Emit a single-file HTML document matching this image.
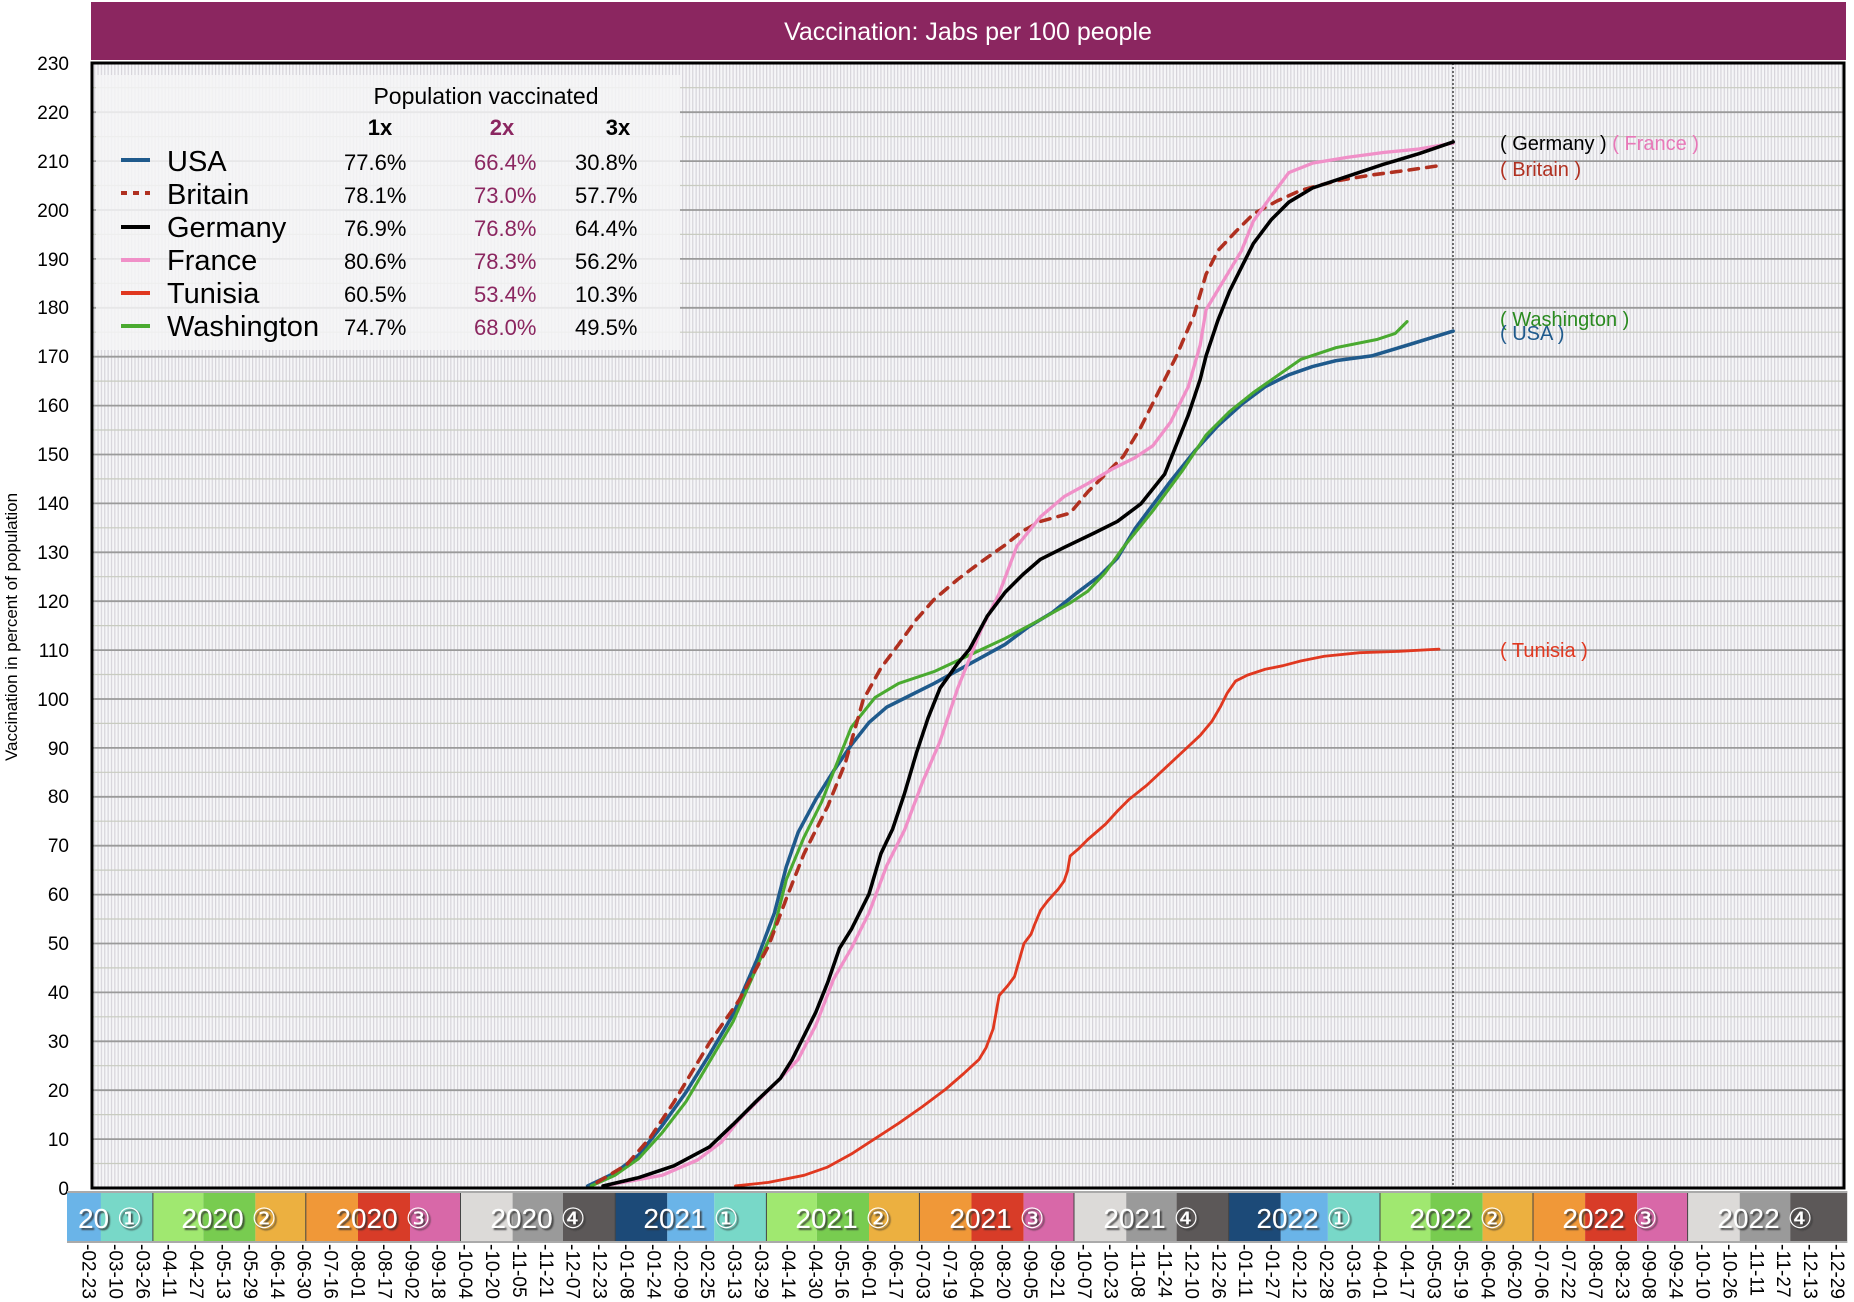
<!DOCTYPE html>
<html><head><meta charset="utf-8"><style>
html,body{margin:0;padding:0;background:#fff;}
svg{display:block;font-family:"Liberation Sans",Arial,sans-serif;}
</style></head><body>
<svg width="1854" height="1302" viewBox="0 0 1854 1302" xmlns="http://www.w3.org/2000/svg">
<defs>
<pattern id="vs" width="3.36" height="10" patternUnits="userSpaceOnUse">
<rect width="3.36" height="10" fill="#f6f6f8"/>
<rect width="1.2" height="10" fill="#d6d4da"/>
</pattern>
<filter id="sh" x="-10%" y="-10%" width="130%" height="140%"><feDropShadow dx="2" dy="2" stdDeviation="0.8" flood-color="#333" flood-opacity="0.8"/></filter>
</defs>
<!-- title -->
<rect x="91" y="2" width="1755" height="58" fill="#8b2660"/>
<text x="968" y="40" font-size="25" fill="#fff" text-anchor="middle">Vaccination: Jabs per 100 people</text>
<!-- plot bg -->
<rect x="92" y="63" width="1752" height="1125" fill="url(#vs)"/>
<!-- grid -->
<g stroke="#c8cbc0" stroke-width="1.2">
<line x1="92" x2="1844" y1="87.7" y2="87.7"/><line x1="92" x2="1844" y1="136.6" y2="136.6"/><line x1="92" x2="1844" y1="185.5" y2="185.5"/><line x1="92" x2="1844" y1="234.4" y2="234.4"/><line x1="92" x2="1844" y1="283.3" y2="283.3"/><line x1="92" x2="1844" y1="332.2" y2="332.2"/><line x1="92" x2="1844" y1="381.1" y2="381.1"/><line x1="92" x2="1844" y1="430" y2="430"/><line x1="92" x2="1844" y1="478.9" y2="478.9"/><line x1="92" x2="1844" y1="527.8" y2="527.8"/><line x1="92" x2="1844" y1="576.7" y2="576.7"/><line x1="92" x2="1844" y1="625.6" y2="625.6"/><line x1="92" x2="1844" y1="674.5" y2="674.5"/><line x1="92" x2="1844" y1="723.4" y2="723.4"/><line x1="92" x2="1844" y1="772.3" y2="772.3"/><line x1="92" x2="1844" y1="821.2" y2="821.2"/><line x1="92" x2="1844" y1="870.1" y2="870.1"/><line x1="92" x2="1844" y1="919" y2="919"/><line x1="92" x2="1844" y1="967.9" y2="967.9"/><line x1="92" x2="1844" y1="1016.8" y2="1016.8"/><line x1="92" x2="1844" y1="1065.7" y2="1065.7"/><line x1="92" x2="1844" y1="1114.6" y2="1114.6"/><line x1="92" x2="1844" y1="1163.5" y2="1163.5"/>
</g>
<g stroke="#9a9a9a" stroke-width="1.8">
<line x1="92" x2="1844" y1="112.2" y2="112.2"/><line x1="92" x2="1844" y1="161.1" y2="161.1"/><line x1="92" x2="1844" y1="210" y2="210"/><line x1="92" x2="1844" y1="258.9" y2="258.9"/><line x1="92" x2="1844" y1="307.8" y2="307.8"/><line x1="92" x2="1844" y1="356.7" y2="356.7"/><line x1="92" x2="1844" y1="405.6" y2="405.6"/><line x1="92" x2="1844" y1="454.5" y2="454.5"/><line x1="92" x2="1844" y1="503.4" y2="503.4"/><line x1="92" x2="1844" y1="552.3" y2="552.3"/><line x1="92" x2="1844" y1="601.2" y2="601.2"/><line x1="92" x2="1844" y1="650.1" y2="650.1"/><line x1="92" x2="1844" y1="699" y2="699"/><line x1="92" x2="1844" y1="747.9" y2="747.9"/><line x1="92" x2="1844" y1="796.8" y2="796.8"/><line x1="92" x2="1844" y1="845.7" y2="845.7"/><line x1="92" x2="1844" y1="894.6" y2="894.6"/><line x1="92" x2="1844" y1="943.5" y2="943.5"/><line x1="92" x2="1844" y1="992.4" y2="992.4"/><line x1="92" x2="1844" y1="1041.3" y2="1041.3"/><line x1="92" x2="1844" y1="1090.2" y2="1090.2"/><line x1="92" x2="1844" y1="1139.1" y2="1139.1"/>
</g>
<line x1="1453" x2="1453" y1="63" y2="1188" stroke="#444" stroke-width="1.5" stroke-dasharray="2,2"/>
<!-- y labels -->
<g font-size="19" fill="#000" text-anchor="end">
<text x="69" y="70">230</text><text x="69" y="119">220</text><text x="69" y="168">210</text><text x="69" y="217">200</text><text x="69" y="266">190</text><text x="69" y="314">180</text><text x="69" y="363">170</text><text x="69" y="412">160</text><text x="69" y="461">150</text><text x="69" y="510">140</text><text x="69" y="559">130</text><text x="69" y="608">120</text><text x="69" y="657">110</text><text x="69" y="706">100</text><text x="69" y="755">90</text><text x="69" y="803">80</text><text x="69" y="852">70</text><text x="69" y="901">60</text><text x="69" y="950">50</text><text x="69" y="999">40</text><text x="69" y="1048">30</text><text x="69" y="1097">20</text><text x="69" y="1146">10</text><text x="69" y="1195">0</text>
</g>
<text transform="translate(17,627) rotate(-90)" font-size="17" text-anchor="middle">Vaccination in percent of population</text>
<!-- legend -->
<rect x="96" y="75" width="584" height="275" fill="#f4f4f6" opacity="0.85"/>
<text x="486" y="104" font-size="23" text-anchor="middle">Population vaccinated</text>
<g font-size="22" font-weight="bold" text-anchor="middle">
<text x="380" y="135">1x</text><text x="502" y="135" fill="#8b2660">2x</text><text x="618" y="135">3x</text>
</g>
<g stroke-width="4">
<line x1="121" x2="150" y1="160" y2="160" stroke="#1f5a8c"/>
<line x1="121" x2="150" y1="193" y2="193" stroke="#b03020" stroke-dasharray="6,6"/>
<line x1="121" x2="150" y1="227" y2="227" stroke="#000"/>
<line x1="121" x2="150" y1="260" y2="260" stroke="#f090c8"/>
<line x1="121" x2="150" y1="293" y2="293" stroke="#e03820"/>
<line x1="121" x2="150" y1="326" y2="326" stroke="#4aaa30"/>
</g>
<g font-size="29">
<text x="167" y="171">USA</text><text x="167" y="204">Britain</text><text x="167" y="237">Germany</text><text x="167" y="270">France</text><text x="167" y="303">Tunisia</text><text x="167" y="336">Washington</text>
</g>
<g font-size="22">
<text x="344" y="170">77.6%</text><text x="344" y="203">78.1%</text><text x="344" y="236">76.9%</text><text x="344" y="269">80.6%</text><text x="344" y="302">60.5%</text><text x="344" y="335">74.7%</text>
<g fill="#8b2660"><text x="474" y="170">66.4%</text><text x="474" y="203">73.0%</text><text x="474" y="236">76.8%</text><text x="474" y="269">78.3%</text><text x="474" y="302">53.4%</text><text x="474" y="335">68.0%</text></g>
<text x="575" y="170">30.8%</text><text x="575" y="203">57.7%</text><text x="575" y="236">64.4%</text><text x="575" y="269">56.2%</text><text x="575" y="302">10.3%</text><text x="575" y="335">49.5%</text>
</g>
<!-- series -->
<g transform="scale(1.1824)" fill="none" stroke-linejoin="round" stroke-linecap="round">
<polyline stroke="#e03820" stroke-width="2.4" points="622,1003 650,1000 680,994 700,987 720,976 740,963 760,950 780,936 800,921 815,908 828,896 834,886 840,870 845,842 852,834 858,826 862,812 866,798 872,790 875,782 880,770 886,762 895,752 900,745 903,736 905,724 912,718 920,710 935,697 945,686 955,676 970,664 985,650 1000,636 1015,622 1025,610 1032,598 1038,586 1045,576 1055,571 1070,566 1085,563 1100,559 1120,555 1150,552 1180,551 1217,549"/>
<polyline stroke="#1f5a8c" stroke-width="3" points="497,1003 520,992 540,977 560,952 580,924 600,892 620,858 640,812 655,772 665,733 675,704 690,676 705,652 720,630 735,611 750,598 770,588 790,578 810,567 830,556 850,545 870,530 890,518 910,502 930,487 945,472 960,447 975,427 990,407 1010,382 1030,360 1050,342 1070,327 1090,317 1110,310 1130,305 1160,301 1190,292 1229,280"/>
<polyline stroke="#4aaa30" stroke-width="2.6" points="500,1003 520,994 540,980 560,958 580,932 600,898 620,864 640,818 655,784 665,744 680,708 695,678 710,640 720,615 740,590 760,578 790,568 820,554 850,540 880,524 905,510 920,500 935,484 950,463 975,432 1000,398 1020,368 1040,348 1060,332 1080,318 1100,304 1130,294 1165,287 1180,282 1190,272"/>
<polyline stroke="#b03020" stroke-width="3" stroke-dasharray="8,7" points="505,1000 530,985 550,962 570,932 600,882 625,846 650,800 665,760 680,722 700,682 715,645 730,592 745,565 760,545 775,524 790,507 810,490 830,475 850,461 865,449 880,441 905,434 920,416 935,401 950,386 965,361 980,331 995,301 1010,266 1020,232 1030,212 1045,196 1060,181 1080,170 1100,161 1130,153 1160,148 1190,144 1218,140"/>
<polyline stroke="#f090c8" stroke-width="2.8" points="510,1003 560,994 590,981 610,966 625,947 645,927 660,912 675,896 690,867 705,828 720,802 735,772 750,732 765,702 780,662 795,627 810,582 820,557 830,532 845,502 860,462 880,437 900,420 920,409 940,397 960,387 975,377 990,357 1005,327 1015,292 1020,262 1035,237 1050,212 1060,187 1075,166 1090,146 1110,138 1140,133 1170,129 1200,126 1229,121"/>
<polyline stroke="#000" stroke-width="3" points="510,1003 540,996 570,986 600,970 620,951 640,931 660,912 670,896 680,876 690,856 700,831 710,802 720,786 735,756 745,722 755,701 765,671 775,637 785,607 795,582 810,561 820,549 835,521 850,501 865,486 880,473 900,463 925,451 945,441 965,426 985,401 995,376 1005,351 1015,321 1020,301 1030,271 1040,246 1050,226 1060,206 1075,186 1090,171 1110,159 1140,149 1170,139 1200,130 1229,120"/>
</g>
<!-- frame -->
<rect x="92" y="63" width="1752" height="1125" fill="none" stroke="#000" stroke-width="3"/>
<!-- right labels -->
<g font-size="20">
<text x="1500" y="150"><tspan fill="#000">( Germany )</tspan><tspan fill="#e878b8"> ( France )</tspan></text>
<text x="1500" y="176" fill="#b03020">( Britain )</text>
<text x="1500" y="326" fill="#2a8a20">( Washington )</text>
<text x="1500" y="340" fill="#1f5a8c">( USA )</text>
<text x="1500" y="657" fill="#e03820">( Tunisia )</text>
</g>
<!-- quarter bar -->
<g>
<rect x="67" y="1191" width="34" height="52" fill="#6ab4e8"/><rect x="100.8" y="1191" width="52.1" height="52" fill="#78d8c8"/>
<rect x="152.9" y="1191" width="50.4" height="52" fill="#a0e870"/><rect x="203.3" y="1191" width="52.1" height="52" fill="#78cc50"/><rect x="255.4" y="1191" width="50.4" height="52" fill="#ecb040"/>
<rect x="305.8" y="1191" width="52.2" height="52" fill="#f09838"/><rect x="358" y="1191" width="52" height="52" fill="#d83c28"/><rect x="410" y="1191" width="50.5" height="52" fill="#d868a8"/>
<rect x="460.5" y="1191" width="52.1" height="52" fill="#dcdad8"/><rect x="512.6" y="1191" width="50.4" height="52" fill="#9a9a9a"/><rect x="563" y="1191" width="52.2" height="52" fill="#5c5858"/>
<rect x="615.2" y="1191" width="52.1" height="52" fill="#1c4a78"/><rect x="667.3" y="1191" width="47" height="52" fill="#6ab4e8"/><rect x="714.3" y="1191" width="52.1" height="52" fill="#78d8c8"/>
<rect x="766.4" y="1191" width="50.5" height="52" fill="#a0e870"/><rect x="816.9" y="1191" width="52.1" height="52" fill="#78cc50"/><rect x="869" y="1191" width="50.4" height="52" fill="#ecb040"/>
<rect x="919.4" y="1191" width="52.1" height="52" fill="#f09838"/><rect x="971.5" y="1191" width="52.1" height="52" fill="#d83c28"/><rect x="1023.6" y="1191" width="50.4" height="52" fill="#d868a8"/>
<rect x="1074" y="1191" width="52.2" height="52" fill="#dcdad8"/><rect x="1126.2" y="1191" width="50.4" height="52" fill="#9a9a9a"/><rect x="1176.6" y="1191" width="52.1" height="52" fill="#5c5858"/>
<rect x="1228.7" y="1191" width="52.1" height="52" fill="#1c4a78"/><rect x="1280.8" y="1191" width="47.1" height="52" fill="#6ab4e8"/><rect x="1327.9" y="1191" width="52.1" height="52" fill="#78d8c8"/>
<rect x="1380" y="1191" width="50.4" height="52" fill="#a0e870"/><rect x="1430.4" y="1191" width="52.2" height="52" fill="#78cc50"/><rect x="1482.6" y="1191" width="50.4" height="52" fill="#ecb040"/>
<rect x="1533" y="1191" width="52.1" height="52" fill="#f09838"/><rect x="1585.1" y="1191" width="52.1" height="52" fill="#d83c28"/><rect x="1637.2" y="1191" width="50.4" height="52" fill="#d868a8"/>
<rect x="1687.6" y="1191" width="52.1" height="52" fill="#dcdad8"/><rect x="1739.7" y="1191" width="50.5" height="52" fill="#9a9a9a"/><rect x="1790.2" y="1191" width="57" height="52" fill="#5c5858"/>
</g>
<g stroke="#444" stroke-width="1">
<line x1="152.9" x2="152.9" y1="1191" y2="1243"/><line x1="305.8" x2="305.8" y1="1191" y2="1243"/><line x1="460.5" x2="460.5" y1="1191" y2="1243"/><line x1="615.2" x2="615.2" y1="1191" y2="1243"/><line x1="766.4" x2="766.4" y1="1191" y2="1243"/><line x1="919.4" x2="919.4" y1="1191" y2="1243"/><line x1="1074" x2="1074" y1="1191" y2="1243"/><line x1="1228.7" x2="1228.7" y1="1191" y2="1243"/><line x1="1380" x2="1380" y1="1191" y2="1243"/><line x1="1533" x2="1533" y1="1191" y2="1243"/><line x1="1687.6" x2="1687.6" y1="1191" y2="1243"/>
</g>
<rect x="67" y="1191" width="1780" height="2" fill="#aaa"/><rect x="67" y="1241" width="1780" height="2" fill="#aaa"/>
<g font-size="28" fill="#fff" text-anchor="middle" filter="url(#sh)" font-family="'Liberation Sans','DejaVu Sans',sans-serif">
<text x="110" y="1228">20 ①</text><text x="229" y="1228">2020 ②</text><text x="383" y="1228">2020 ③</text><text x="538" y="1228">2020 ④</text>
<text x="691" y="1228">2021 ①</text><text x="843" y="1228">2021 ②</text><text x="997" y="1228">2021 ③</text><text x="1151" y="1228">2021 ④</text>
<text x="1304" y="1228">2022 ①</text><text x="1457" y="1228">2022 ②</text><text x="1610" y="1228">2022 ③</text><text x="1765" y="1228">2022 ④</text>
</g>
<!-- x tick labels -->
<g font-size="19" fill="#000">
<text transform="translate(82.5,1244) rotate(90)">-02-23</text>
<text transform="translate(109.4,1244) rotate(90)">-03-10</text>
<text transform="translate(136.3,1244) rotate(90)">-03-26</text>
<text transform="translate(163.2,1244) rotate(90)">-04-11</text>
<text transform="translate(190.1,1244) rotate(90)">-04-27</text>
<text transform="translate(217,1244) rotate(90)">-05-13</text>
<text transform="translate(243.9,1244) rotate(90)">-05-29</text>
<text transform="translate(270.8,1244) rotate(90)">-06-14</text>
<text transform="translate(297.7,1244) rotate(90)">-06-30</text>
<text transform="translate(324.6,1244) rotate(90)">-07-16</text>
<text transform="translate(351.5,1244) rotate(90)">-08-01</text>
<text transform="translate(378.4,1244) rotate(90)">-08-17</text>
<text transform="translate(405.3,1244) rotate(90)">-09-02</text>
<text transform="translate(432.2,1244) rotate(90)">-09-18</text>
<text transform="translate(459.1,1244) rotate(90)">-10-04</text>
<text transform="translate(486,1244) rotate(90)">-10-20</text>
<text transform="translate(512.9,1244) rotate(90)">-11-05</text>
<text transform="translate(539.8,1244) rotate(90)">-11-21</text>
<text transform="translate(566.7,1244) rotate(90)">-12-07</text>
<text transform="translate(593.6,1244) rotate(90)">-12-23</text>
<text transform="translate(620.5,1244) rotate(90)">-01-08</text>
<text transform="translate(647.4,1244) rotate(90)">-01-24</text>
<text transform="translate(674.3,1244) rotate(90)">-02-09</text>
<text transform="translate(701.2,1244) rotate(90)">-02-25</text>
<text transform="translate(728.1,1244) rotate(90)">-03-13</text>
<text transform="translate(755,1244) rotate(90)">-03-29</text>
<text transform="translate(781.9,1244) rotate(90)">-04-14</text>
<text transform="translate(808.8,1244) rotate(90)">-04-30</text>
<text transform="translate(835.7,1244) rotate(90)">-05-16</text>
<text transform="translate(862.6,1244) rotate(90)">-06-01</text>
<text transform="translate(889.5,1244) rotate(90)">-06-17</text>
<text transform="translate(916.4,1244) rotate(90)">-07-03</text>
<text transform="translate(943.3,1244) rotate(90)">-07-19</text>
<text transform="translate(970.2,1244) rotate(90)">-08-04</text>
<text transform="translate(997.1,1244) rotate(90)">-08-20</text>
<text transform="translate(1024,1244) rotate(90)">-09-05</text>
<text transform="translate(1050.9,1244) rotate(90)">-09-21</text>
<text transform="translate(1077.8,1244) rotate(90)">-10-07</text>
<text transform="translate(1104.7,1244) rotate(90)">-10-23</text>
<text transform="translate(1131.6,1244) rotate(90)">-11-08</text>
<text transform="translate(1158.5,1244) rotate(90)">-11-24</text>
<text transform="translate(1185.4,1244) rotate(90)">-12-10</text>
<text transform="translate(1212.3,1244) rotate(90)">-12-26</text>
<text transform="translate(1239.2,1244) rotate(90)">-01-11</text>
<text transform="translate(1266.1,1244) rotate(90)">-01-27</text>
<text transform="translate(1293,1244) rotate(90)">-02-12</text>
<text transform="translate(1319.9,1244) rotate(90)">-02-28</text>
<text transform="translate(1346.8,1244) rotate(90)">-03-16</text>
<text transform="translate(1373.7,1244) rotate(90)">-04-01</text>
<text transform="translate(1400.6,1244) rotate(90)">-04-17</text>
<text transform="translate(1427.5,1244) rotate(90)">-05-03</text>
<text transform="translate(1454.4,1244) rotate(90)">-05-19</text>
<text transform="translate(1481.3,1244) rotate(90)">-06-04</text>
<text transform="translate(1508.2,1244) rotate(90)">-06-20</text>
<text transform="translate(1535.1,1244) rotate(90)">-07-06</text>
<text transform="translate(1562,1244) rotate(90)">-07-22</text>
<text transform="translate(1588.9,1244) rotate(90)">-08-07</text>
<text transform="translate(1615.8,1244) rotate(90)">-08-23</text>
<text transform="translate(1642.7,1244) rotate(90)">-09-08</text>
<text transform="translate(1669.6,1244) rotate(90)">-09-24</text>
<text transform="translate(1696.5,1244) rotate(90)">-10-10</text>
<text transform="translate(1723.4,1244) rotate(90)">-10-26</text>
<text transform="translate(1750.3,1244) rotate(90)">-11-11</text>
<text transform="translate(1777.2,1244) rotate(90)">-11-27</text>
<text transform="translate(1804.1,1244) rotate(90)">-12-13</text>
<text transform="translate(1831,1244) rotate(90)">-12-29</text>
</g>
</svg>
</body></html>
